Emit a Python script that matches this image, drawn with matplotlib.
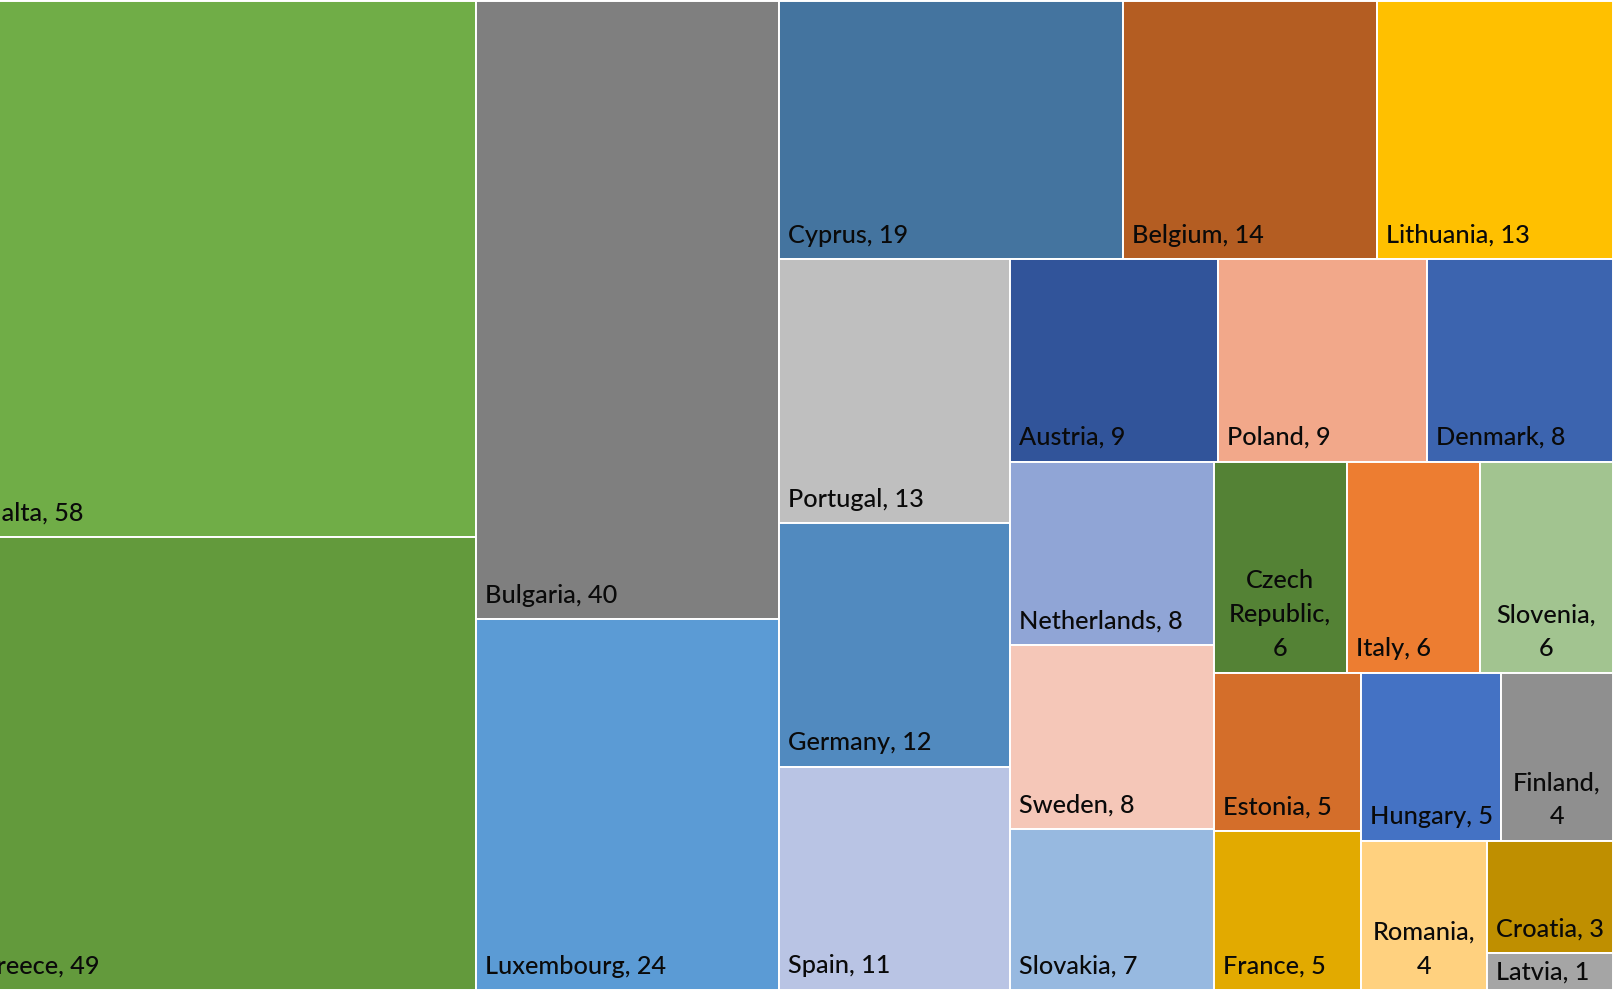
import matplotlib
matplotlib.use("Agg")
import matplotlib.pyplot as plt
from matplotlib.patches import Rectangle

# ---------------- data ----------------
countries = ["Malta", "Greece", "Bulgaria", "Luxembourg", "Cyprus", "Belgium",
             "Lithuania", "Portugal", "Germany", "Spain", "Austria", "Poland",
             "Denmark", "Netherlands", "Sweden", "Slovakia", "Czech Republic",
             "Italy", "Slovenia", "Estonia", "France", "Hungary", "Finland",
             "Romania", "Croatia", "Latvia"]
values = [58, 49, 40, 24, 19, 14, 13, 13, 12, 11, 9, 9, 8, 8, 8, 7, 6, 6, 6,
          5, 5, 5, 4, 4, 3, 1]
colors = ["#70AD47", "#639A3C", "#7F7F7F", "#5B9BD5", "#44749F", "#B45D22",
          "#FFC000", "#BFBFBF", "#518ABF", "#B9C4E4", "#31549A", "#F2A88A",
          "#3C64AF", "#90A5D6", "#F5C7B8", "#97B9E0", "#548235", "#ED7D31",
          "#A2C490", "#D46E2A", "#E2AA00", "#4472C4", "#8F8F8F", "#FFD17F",
          "#BF8F00", "#A5A5A5"]

# ---------------- layout settings ----------------
FIG_W, FIG_H = 1614, 992
LEFT, RIGHT, TOP, BOTTOM = -31.0, 1612.5, 1.0, 990.0
TARGET_HW = 1.12          # preferred height/width of a cell
FONT = ["Lato", "DejaVu Sans"]
FS = 18.2
WEIGHT = "medium"
TEXT_COLOR = "#0A0A0A"
PAD_X = 9
PAD_TOTAL = 16
BASE_OFF = 16.5
LINE_H = 34


def worst(areas, side, horizontal):
    t = sum(areas) / side
    res = 0.0
    for a in areas:
        l = a / t
        hh, ww = (t, l) if horizontal else (l, t)
        r = hh / ww
        res = max(res, r / TARGET_HW, TARGET_HW / r)
    return res


def treemap(vals, x, y, w, h):
    total = float(sum(vals))
    k = w * h / total
    areas = [v * k for v in vals]
    rects = []
    i, n = 0, len(areas)
    while i < n:
        horizontal = w < h
        side = w if horizontal else h
        j = i + 1
        cur = worst(areas[i:j], side, horizontal)
        while j < n:
            nw = worst(areas[i:j + 1], side, horizontal)
            if nw > cur:
                break
            cur = nw
            j += 1
        strip = areas[i:j]
        t = sum(strip) / side
        pos = 0.0
        for a in strip:
            l = a / t
            if horizontal:
                rects.append((x + pos, y, l, t))
            else:
                rects.append((x, y + pos, t, l))
            pos += l
        if horizontal:
            y += t
            h -= t
        else:
            x += t
            w -= t
        i = j
    return rects


fig = plt.figure(figsize=(FIG_W / 100, FIG_H / 100), dpi=100)
fig.patch.set_facecolor("white")
ax = fig.add_axes([0, 0, 1, 1])
ax.set_xlim(0, FIG_W)
ax.set_ylim(FIG_H, 0)
ax.axis("off")
renderer = fig.canvas.get_renderer()


def text_size(s):
    t = ax.text(0, 0, s, fontsize=FS, family=FONT, fontweight=WEIGHT)
    bb = t.get_window_extent(renderer)
    t.remove()
    return bb.width


cap_t = ax.text(0, 0, "L", fontsize=FS, family=FONT, va="baseline")
cap_bb = cap_t.get_window_extent(renderer)
cap_t.remove()
CAP = cap_bb.height * 0.72

rects = treemap(values, LEFT, TOP, RIGHT - LEFT, BOTTOM - TOP)

for (x, y, w, h), name, v, c in zip(rects, countries, values, colors):
    ax.add_patch(Rectangle((x, y), w, h, facecolor=c, edgecolor="white",
                           linewidth=1.4))
    full = f"{name}, {v}"
    if text_size(full) <= w - PAD_TOTAL:
        lines = [full]
        centered = False
    else:
        words = (name + ",").split()
        lines, cur = [], ""
        for wd in words:
            test = (cur + " " + wd).strip()
            if cur and text_size(test) > w - PAD_TOTAL:
                lines.append(cur)
                cur = wd
            else:
                cur = test
        lines.append(cur)
        lines.append(str(v))
        centered = True
    n = len(lines)
    if h < n * LINE_H + 16:
        last_base = y + h / 2 + CAP / 2 + (n - 1) * LINE_H / 2
    else:
        last_base = y + h - BASE_OFF
    for kk, line in enumerate(lines):
        base = last_base - (n - 1 - kk) * LINE_H
        if centered:
            ax.text(x + w / 2, base, line, fontsize=FS, family=FONT,
                    fontweight=WEIGHT, color=TEXT_COLOR, ha="center",
                    va="baseline")
        else:
            ax.text(x + PAD_X, base, line, fontsize=FS, family=FONT,
                    fontweight=WEIGHT, color=TEXT_COLOR, ha="left",
                    va="baseline")

fig.savefig("out.png", dpi=100, facecolor="white")
